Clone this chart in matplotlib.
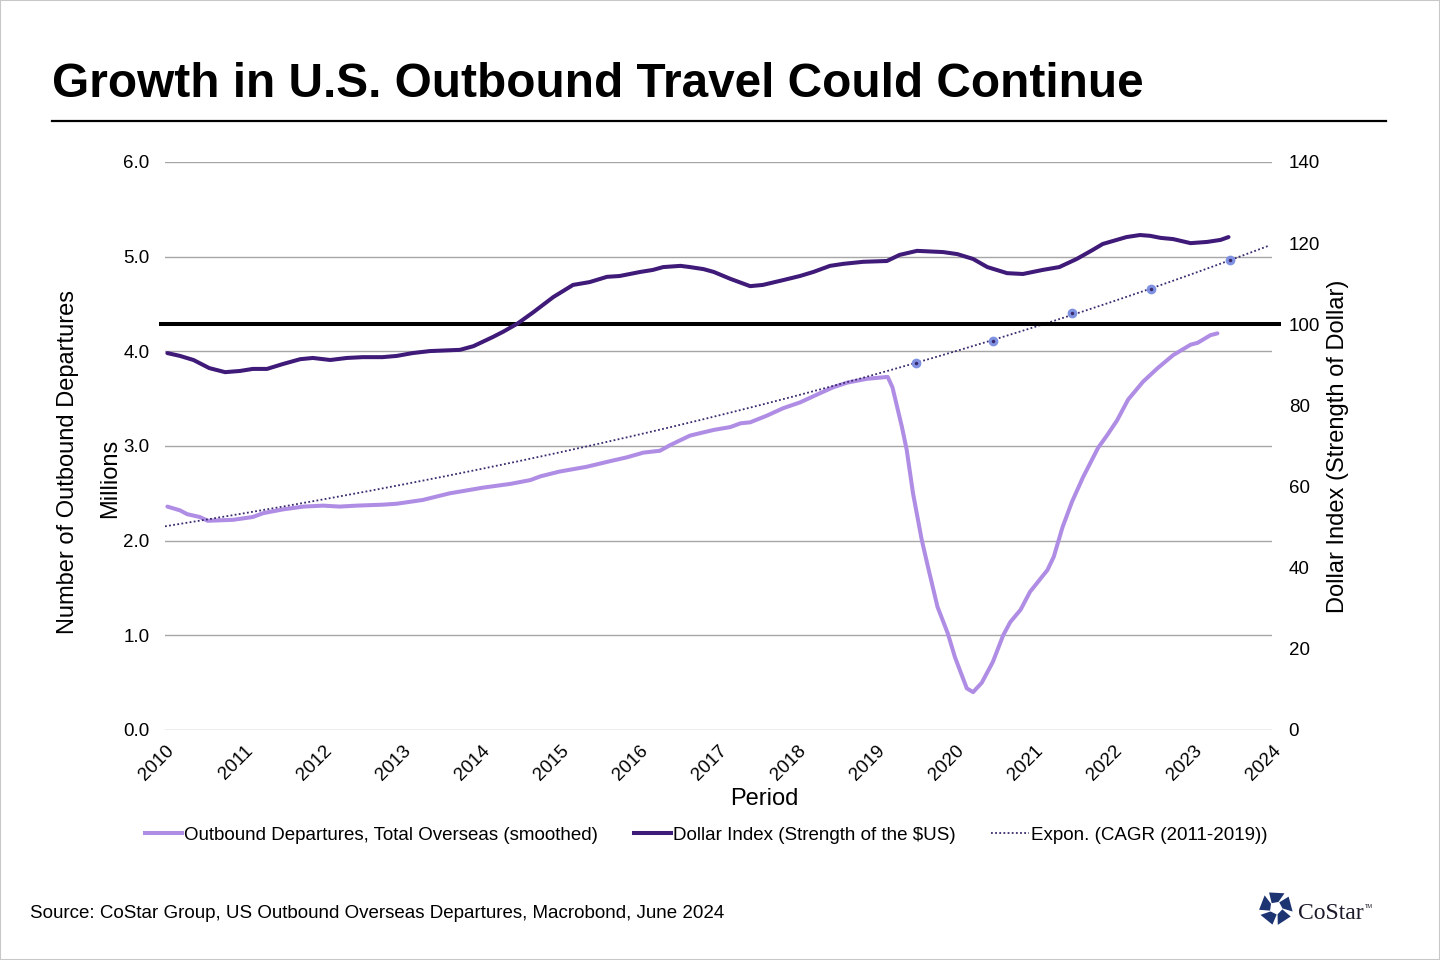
import numpy as np
import matplotlib
matplotlib.use('Agg')
import matplotlib.pyplot as plt
from matplotlib.lines import Line2D
from matplotlib.patches import Polygon, Rectangle

plt.rcParams['font.family'] = ['Liberation Sans', 'DejaVu Sans']

# ---------------- data ----------------
dep_years = [2010.03, 2010.19, 2010.28, 2010.44, 2010.54, 2010.86, 2011.11, 2011.24, 2011.49, 2011.75,
             2012.00, 2012.21, 2012.42, 2012.75, 2012.93, 2013.26, 2013.60, 2014.02, 2014.37, 2014.62,
             2014.75, 2014.99, 2015.33, 2015.63, 2015.84, 2016.05, 2016.26, 2016.39, 2016.64, 2016.94,
             2017.15, 2017.28, 2017.40, 2017.61, 2017.82, 2018.03, 2018.29, 2018.45, 2018.63, 2018.88,
             2019.14, 2019.20, 2019.32, 2019.38, 2019.46, 2019.57, 2019.65, 2019.77, 2019.90, 2019.99,
             2020.14, 2020.22, 2020.33, 2020.47, 2020.60, 2020.69, 2020.82, 2020.94, 2021.16, 2021.24,
             2021.35, 2021.47, 2021.61, 2021.80, 2021.92, 2022.04, 2022.18, 2022.37, 2022.55, 2022.75,
             2022.97, 2023.06, 2023.22, 2023.31]
dep_values = [2.36, 2.32, 2.28, 2.25, 2.21, 2.22, 2.25, 2.29, 2.33, 2.36,
              2.37, 2.36, 2.37, 2.38, 2.39, 2.43, 2.50, 2.56, 2.60, 2.64,
              2.68, 2.73, 2.78, 2.84, 2.88, 2.93, 2.95, 3.01, 3.11, 3.17,
              3.20, 3.24, 3.25, 3.32, 3.40, 3.46, 3.56, 3.62, 3.67, 3.71,
              3.73, 3.62, 3.20, 2.96, 2.50, 2.01, 1.72, 1.30, 1.02, 0.77,
              0.44, 0.40, 0.50, 0.72, 1.00, 1.14, 1.27, 1.46, 1.69, 1.83,
              2.14, 2.41, 2.67, 2.98, 3.12, 3.27, 3.49, 3.68, 3.82, 3.96,
              4.07, 4.09, 4.17, 4.19]

usd_years = [2010.03, 2010.19, 2010.36, 2010.56, 2010.76, 2010.95, 2011.11, 2011.29, 2011.49, 2011.71,
             2011.87, 2012.09, 2012.30, 2012.50, 2012.75, 2012.93, 2013.13, 2013.35, 2013.73, 2013.90,
             2014.15, 2014.28, 2014.46, 2014.66, 2014.91, 2015.16, 2015.37, 2015.59, 2015.75, 2016.01,
             2016.17, 2016.30, 2016.52, 2016.64, 2016.81, 2016.94, 2017.15, 2017.40, 2017.56, 2017.82,
             2018.03, 2018.20, 2018.41, 2018.58, 2018.83, 2019.13, 2019.29, 2019.51, 2019.84, 2020.02,
             2020.22, 2020.40, 2020.65, 2020.85, 2021.10, 2021.31, 2021.53, 2021.73, 2021.86, 2022.16,
             2022.33, 2022.46, 2022.59, 2022.75, 2022.97, 2023.18, 2023.35, 2023.45]
usd_values = [92.9, 92.2, 91.2, 89.2, 88.2, 88.5, 89.0, 89.0, 90.2, 91.4,
              91.7, 91.2, 91.7, 91.9, 91.9, 92.2, 92.9, 93.4, 93.7, 94.6,
              96.9, 98.2, 100.2, 103.0, 106.7, 109.7, 110.4, 111.7, 111.9, 112.9,
              113.4, 114.1, 114.4, 114.1, 113.6, 112.9, 111.2, 109.4, 109.7, 110.9,
              111.9, 112.9, 114.4, 114.9, 115.4, 115.6, 117.1, 118.1, 117.8, 117.3,
              116.1, 114.1, 112.6, 112.4, 113.4, 114.1, 116.1, 118.3, 119.8, 121.5,
              122.0, 121.8, 121.3, 121.0, 120.0, 120.3, 120.8, 121.5]

proj_years = [2019.5, 2020.47, 2021.47, 2022.47, 2023.47]
proj_values = [3.88, 4.11, 4.40, 4.66, 4.96]

parity_level = 100
x_ticks = list(range(2010, 2025))
left_ticks = [0, 1, 2, 3, 4, 5, 6]
right_ticks = [0, 20, 40, 60, 80, 100, 120, 140]

title = "Growth in U.S. Outbound Travel Could Continue"
label_dep = "Outbound Departures, Total Overseas (smoothed)"
label_usd = "Dollar Index (Strength of the $US)"
label_trend = "Expon. (CAGR (2011-2019))"
source = "Source: CoStar Group, US Outbound Overseas Departures, Macrobond, June 2024"

# ---------------- style ----------------
C_DEP = '#b08de4'
C_USD = '#3f1a78'
C_TREND = '#3a2a6e'
C_MARK = '#7f92e2'
C_GRID = '#a6a6a6'
FS = 13.5

W, H = 1440, 960
fig = plt.figure(figsize=(14.4, 9.6), dpi=100)

L, R, T, B = 165, 1272, 162, 730
ax = fig.add_axes([L / W, 1 - B / H, (R - L) / W, (B - T) / H])
ax2 = ax.twinx()

ax.set_xlim(2010, 2024)
ax.set_ylim(0, 6)
ax2.set_ylim(0, 140)

ax.set_yticks(left_ticks)
ax.set_yticklabels([f"{v:.1f}" for v in left_ticks])
ax2.set_yticks(right_ticks)
ax2.set_yticklabels([str(v) for v in right_ticks])
ax.set_xticks(x_ticks)
ax.set_xticklabels([str(v) for v in x_ticks], rotation=45, ha='right', va='top',
                   rotation_mode='anchor')

ax.grid(axis='y', color=C_GRID, lw=1.0)
ax.grid(axis='x', visible=False)
ax.set_axisbelow(True)
for a in (ax, ax2):
    for s in a.spines.values():
        s.set_visible(False)
ax.tick_params(axis='y', length=0, pad=11, labelsize=FS, colors='#000000')
ax.tick_params(axis='x', length=0, pad=9, labelsize=FS, colors='#000000')
ax2.tick_params(axis='y', length=0, pad=12, labelsize=FS, colors='#000000')

# trend line (exponential fit through projection points)
coef = np.polyfit(np.array(proj_years) - 2010, np.log(proj_values), 1)
tx = np.linspace(2010, 2023.95, 300)
ty = np.exp(np.polyval(coef, tx - 2010))

ax.plot(dep_years, dep_values, color=C_DEP, lw=2.9, solid_capstyle='round', solid_joinstyle='round', zorder=3)
ax.plot(tx, ty, color=C_TREND, lw=1.3, ls=(0, (1, 1.3)), zorder=4)
ax.plot(proj_years, proj_values, ls='none', marker='o', ms=6, mfc=C_MARK, mec=C_MARK, zorder=5)
ax.plot(proj_years, proj_values, ls='none', marker='o', ms=1.5, mfc=C_TREND, mec=C_TREND, zorder=6)

ax2.plot(usd_years, usd_values, color=C_USD, lw=2.9, solid_capstyle='round', solid_joinstyle='round', zorder=3)
ax2.axhline(parity_level, xmin=-0.004, xmax=1.006, color='black', lw=2.9, clip_on=False, zorder=2)

# axis labels
fig.text(68 / W, 1 - 462 / H, "Number of Outbound Departures", rotation=90, ha='center', va='center', fontsize=17)
fig.text(110 / W, 1 - 478 / H, "Millions", rotation=90, ha='center', va='center', fontsize=17)
fig.text(1338 / W, 1 - 446 / H, "Dollar Index (Strength of Dollar)", rotation=90, ha='center', va='center', fontsize=17)
fig.text(764 / W, 1 - 799 / H, "Period", ha='center', va='center', fontsize=17)

# title and rule
fig.text(52 / W, 1 - 97 / H, title, ha='left', va='baseline', fontsize=34.4, fontweight='bold')
fig.add_artist(Line2D([52 / W, 1386 / W], [1 - 121 / H, 1 - 121 / H], color='black', lw=1.6,
                      transform=fig.transFigure))

# legend
handles = [Line2D([], [], color=C_DEP, lw=2.9),
           Line2D([], [], color=C_USD, lw=2.9),
           Line2D([], [], color=C_TREND, lw=1.3, ls=(0, (1, 1.3)))]
fig.legend(handles, [label_dep, label_usd, label_trend], loc='center',
           bbox_to_anchor=(706 / W, 1 - 835 / H), ncol=3, frameon=False, fontsize=FS,
           handlelength=2.0, handletextpad=0.1, columnspacing=1.9)

# source
fig.text(30 / W, 1 - 914 / H, source, ha='left', va='center', fontsize=FS)

# logo
cx, cy = 1276, 908
r_out, r_in = 17, 6.5
for k in range(5):
    phi = np.deg2rad(90 + 72 * k)
    angs = [phi - np.deg2rad(30), phi + np.deg2rad(24)]
    pts = [(cx + r_out * np.cos(a), cy - r_out * np.sin(a)) for a in angs]
    pts += [(cx + r_in * np.cos(phi + np.deg2rad(42)), cy - r_in * np.sin(phi + np.deg2rad(42))),
            (cx + r_in * np.cos(phi - np.deg2rad(22)), cy - r_in * np.sin(phi - np.deg2rad(22)))]
    pts = [(x / W, 1 - y / H) for x, y in pts]
    fig.add_artist(Polygon(pts, closed=True, facecolor='#1d3473', edgecolor='none',
                           transform=fig.transFigure))
fig.text(1298 / W, 1 - 919 / H, "CoStar", ha='left', va='baseline', fontsize=17,
         family=['Liberation Serif', 'DejaVu Serif'], color='#1a1a2a')
fig.text(1365 / W, 1 - 906 / H, "TM", ha='left', va='center', fontsize=4, color='#1a1a2a')

# border
fig.add_artist(Rectangle((0, 0), 1, 1, transform=fig.transFigure, fill=False,
                         edgecolor='#c8c8c8', lw=1.5))

fig.savefig('out.png', dpi=100, facecolor='white')
